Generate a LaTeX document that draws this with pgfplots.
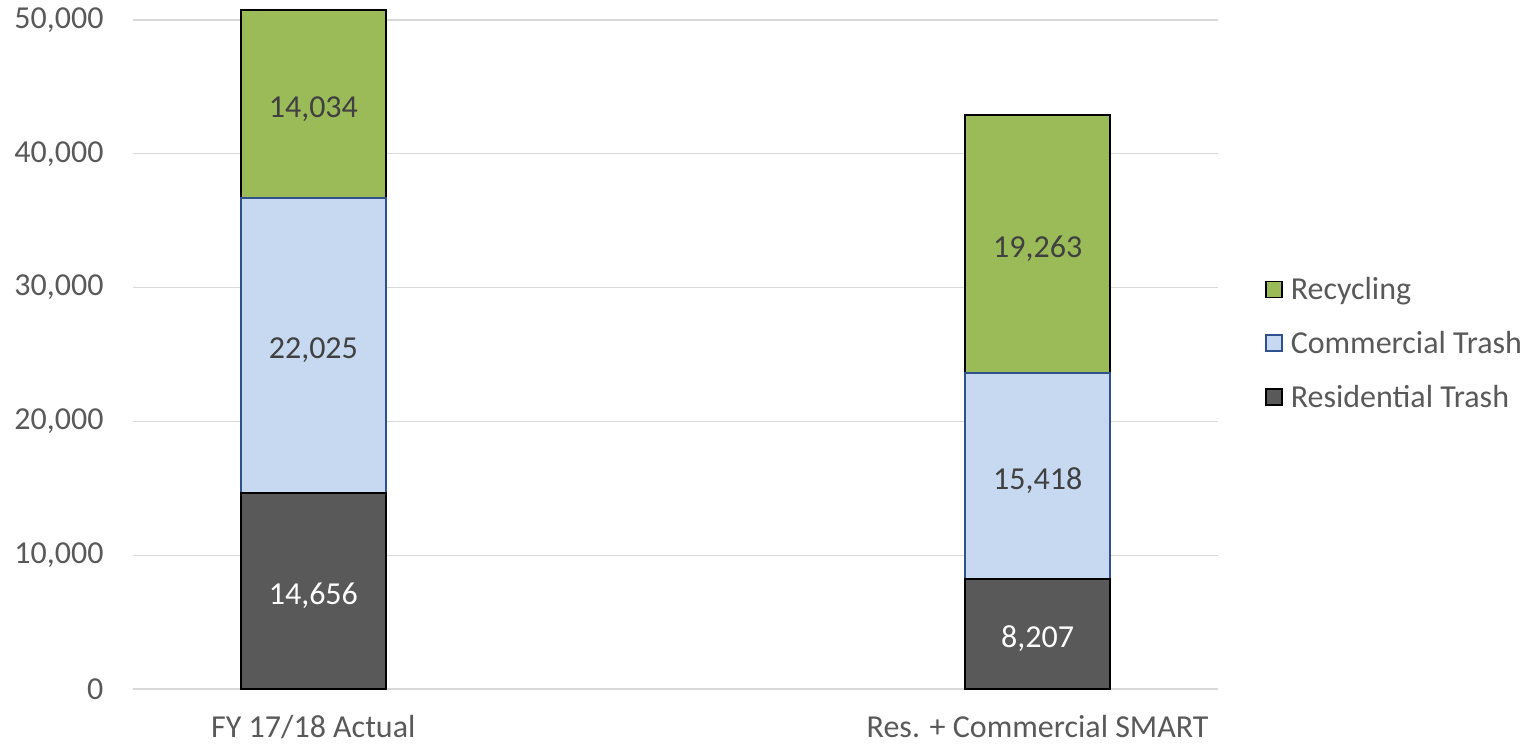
\documentclass[border=0pt]{standalone}
\usepackage{fontspec}
\setmainfont{Carlito}
\usepackage{pgfplots}
\usepackage{pgfplotstable}
\pgfplotsset{compat=1.18}
\definecolor{recg}{HTML}{9BBB59}
\definecolor{comb}{HTML}{C6D9F1}
\definecolor{comedge}{HTML}{2F528F}
\definecolor{resg}{HTML}{595959}
\definecolor{gridg}{HTML}{D9D9D9}
\definecolor{tickg}{HTML}{595959}
\definecolor{labg}{HTML}{404040}
% values in thousands of units; label columns give the exact figures
\pgfplotstableread{
x res com rec resl coml recl
0 14.656 22.025 14.034 {14,656} {22,025} {14,034}
1 8.207 15.418 19.263 {8,207} {15,418} {19,263}
}\data
\begin{document}
\begin{tikzpicture}
\begin{axis}[
  at={(0,0)}, anchor=south west,
  scale only axis, width=1085pt, height=669pt,
  xmin=-0.249, xmax=1.249, ymin=0, ymax=50,
  clip=false,
  ybar stacked, bar width=145pt,
  axis line style={draw=none},
  major tick length=0pt,
  ymajorgrids, grid style={draw=gridg, line width=1.3pt},
  ytick={0,10,20,30,40,50},
  yticklabels={0,{10,000},{20,000},{30,000},{40,000},{50,000}},
  xtick={0,1}, xticklabels={FY 17/18 Actual, Res. + Commercial SMART},
  tick label style={font=\fontsize{32}{38}\selectfont, text=tickg},
  yticklabel style={xshift=-26pt},
  xticklabel style={yshift=-23pt},
  point meta=explicit symbolic,
  nodes near coords,
  every node near coord/.append style={anchor=center, yshift=-5pt, font=\fontsize{32}{38}\selectfont},
  legend style={at={(1.0406,0.517)}, anchor=west, draw=none, fill=none,
    font=\fontsize{32}{38}\selectfont, text=tickg, row sep=26pt,
    nodes={inner xsep=8pt}},
  legend cell align=left,
  reverse legend,
  legend image code/.code={\draw[#1, line width=1.5pt] (0pt,-8pt) rectangle (16pt,8pt);},
]
\addplot[fill=resg, draw=black, line width=2pt, every node near coord/.append style={text=white}] table[x=x, y=res, meta=resl] {\data};
\addlegendentry{Residential Trash}
\addplot[fill=comb, draw=comedge, line width=2pt, every node near coord/.append style={text=labg}] table[x=x, y=com, meta=coml] {\data};
\addlegendentry{Commercial Trash}
\addplot[fill=recg, draw=black, line width=2pt, every node near coord/.append style={text=labg}] table[x=x, y=rec, meta=recl] {\data};
\addlegendentry{Recycling}
\end{axis}
\pgfresetboundingbox
\path[use as bounding box] (-133pt,-56pt) rectangle (1401pt,689pt);
\end{tikzpicture}
\end{document}
